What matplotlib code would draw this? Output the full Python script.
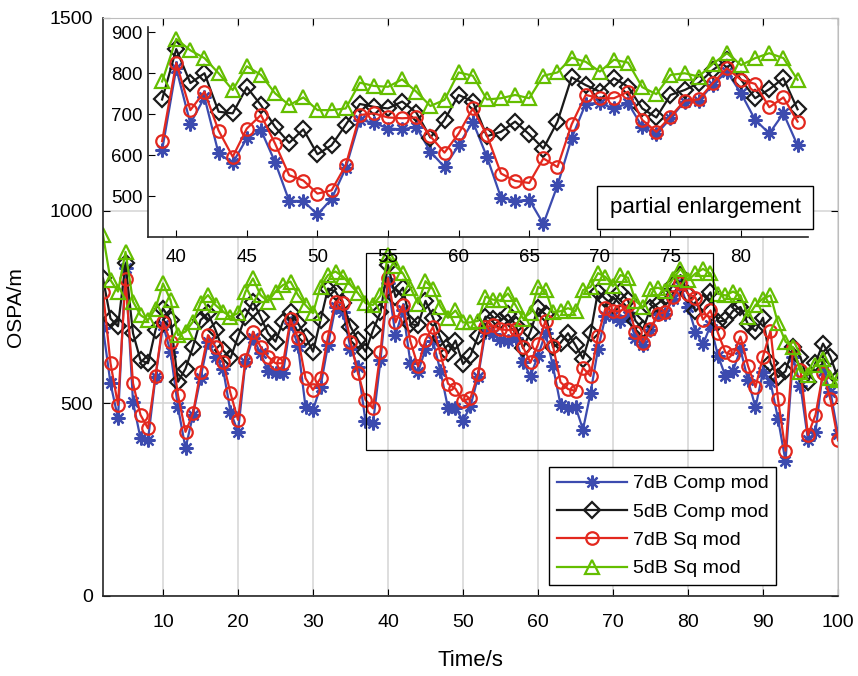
import numpy as np
import matplotlib.pyplot as plt
from matplotlib.patches import Rectangle

plt.rcParams['font.family'] = ['Liberation Sans', 'DejaVu Sans']

# one sample per second, t = 2 ... 100 s
time_s = np.arange(2, 101)

comp_7db = [695, 552, 461, 850, 504, 409, 405, 569, 703, 634,
            490, 383, 470, 565, 660, 620, 590, 478, 426, 608,
            670, 630, 585, 578, 578, 708, 650, 491, 483, 543,
            651, 750, 738, 642, 595, 453, 448, 612, 812, 677,
            741, 604, 581, 641, 661, 583, 488, 488, 455, 493,
            568, 686, 679, 665, 663, 669, 608, 571, 624, 682,
            596, 496, 488, 491, 432, 526, 641, 726, 727, 714,
            727, 669, 651, 690, 731, 733, 772, 804, 751, 686,
            653, 702, 624, 570, 585, 640, 560, 490, 582, 555,
            460, 350, 620, 545, 405, 426, 585, 530, 420]
comp_5db = [824, 720, 700, 863, 682, 612, 604, 690, 746, 716,
            556, 590, 647, 716, 734, 690, 638, 617, 673, 725,
            764, 725, 682, 660, 712, 738, 708, 673, 634, 716,
            798, 790, 760, 699, 664, 634, 690, 736, 859, 776,
            800, 706, 702, 766, 722, 669, 630, 663, 602, 624,
            674, 725, 718, 714, 731, 704, 643, 686, 747, 731,
            646, 657, 682, 651, 616, 682, 790, 771, 755, 788,
            767, 714, 692, 747, 759, 776, 808, 833, 784, 739,
            761, 788, 712, 715, 740, 750, 705, 688, 722, 605,
            568, 583, 645, 620, 556, 605, 655, 620, 565]
sq_7db = [790, 604, 496, 822, 552, 470, 435, 571, 712, 660,
          521, 426, 474, 582, 677, 647, 608, 526, 457, 613,
          686, 647, 621, 604, 604, 718, 669, 565, 535, 565,
          673, 764, 760, 660, 578, 509, 487, 634, 825, 710,
          755, 660, 596, 665, 698, 628, 551, 538, 506, 514,
          575, 698, 702, 692, 690, 692, 646, 606, 653, 714,
          649, 555, 537, 532, 592, 571, 675, 747, 739, 739,
          755, 686, 657, 694, 733, 736, 776, 812, 784, 774,
          717, 741, 682, 632, 625, 673, 597, 542, 621, 689,
          511, 377, 643, 587, 418, 470, 578, 510, 405]
sq_5db = [937, 820, 790, 893, 764, 729, 716, 746, 811, 768,
          677, 686, 712, 760, 781, 755, 738, 725, 734, 790,
          824, 781, 764, 790, 807, 816, 781, 755, 734, 803,
          833, 842, 829, 807, 786, 760, 755, 780, 884, 856,
          837, 800, 759, 817, 796, 751, 722, 741, 710, 710,
          714, 777, 769, 767, 785, 755, 720, 735, 802, 794,
          736, 739, 747, 739, 794, 802, 838, 828, 804, 833,
          826, 766, 749, 796, 800, 792, 823, 849, 820, 837,
          849, 837, 784, 780, 790, 780, 725, 755, 772, 780,
          708, 660, 645, 582, 574, 600, 615, 565, 560]

series_labels = ['7dB Comp mod', '5dB Comp mod', '7dB Sq mod', '5dB Sq mod']
main_xticks = list(range(10, 101, 10))
main_yticks = [0, 500, 1000, 1500]
inset_xticks = list(range(40, 81, 5))
inset_yticks = [500, 600, 700, 800, 900]
zoom_start, zoom_end = 39, 84   # seconds shown in the enlargement

styles = [
    dict(color='#3C4BAF', marker=(8, 2, 0), ms=10),
    dict(color='#1A1A1A', marker='D', ms=8, mfc='none'),
    dict(color='#E3281E', marker='o', ms=9, mfc='none'),
    dict(color='#64BE00', marker='^', ms=10, mfc='none'),
]
all_series = [comp_7db, comp_5db, sq_7db, sq_5db]

fig = plt.figure(figsize=(8.58, 6.76), dpi=100, facecolor='white')

# ---- main axes ----
ax = fig.add_axes([103/858, 80/676, 735/858, 578/676])
for vals, lab, st in zip(all_series, series_labels, styles):
    ax.plot(time_s, vals, label=lab, lw=1.6, mew=1.6, **st)

ax.set_xlim(2, 100)
ax.set_ylim(0, 1500)
ax.set_xticks(main_xticks)
ax.set_yticks(main_yticks)
ax.grid(True, color='#D4D4D4', lw=1.1)
ax.set_axisbelow(True)
ax.tick_params(direction='in', length=5, labelsize=14, top=True, right=True)
ax.tick_params(axis='x', pad=13)
ax.tick_params(axis='y', pad=7)
for side in ['top', 'right']:
    ax.spines[side].set_color('#BDBDBD')
for side in ['left', 'bottom']:
    ax.spines[side].set_color('#262626')
    ax.spines[side].set_linewidth(1.2)

ax.set_xlabel('Time/s', fontsize=16)
ax.set_ylabel('OSPA/m', fontsize=15)
ax.xaxis.set_label_coords(0.5, -0.094)
ax.yaxis.set_label_coords(-0.106, 0.5)

# box around the zoomed part
ax.add_patch(Rectangle((37.07, 379), 46.26, 511, fill=False, ec='black', lw=0.9, zorder=5))

leg = ax.legend(loc='upper left', bbox_to_anchor=(549/858, 1 - 467/676),
                bbox_transform=fig.transFigure, fontsize=14, frameon=True,
                fancybox=False, framealpha=1, edgecolor='black',
                handlelength=3.6, handletextpad=0.3, borderpad=0.4,
                labelspacing=0.55, borderaxespad=0)
leg.get_frame().set_linewidth(1.0)

# ---- inset: partial enlargement ----
axin = fig.add_axes([148/858, (676 - 237)/676, 660/858, 210/676])
axin.set_facecolor('white')
sel = (time_s >= zoom_start) & (time_s <= zoom_end)
for vals, st in zip(all_series, styles):
    axin.plot(time_s[sel], np.asarray(vals)[sel], lw=1.6, mew=1.6, **st)
axin.set_xlim(38, 84.74)
axin.set_ylim(400, 913)
axin.set_xticks(inset_xticks)
axin.set_yticks(inset_yticks)
axin.tick_params(direction='in', length=5, labelsize=13.5)
axin.tick_params(axis='x', pad=9)
axin.tick_params(axis='y', pad=4)
axin.spines['top'].set_visible(False)
axin.spines['right'].set_visible(False)
for side in ['left', 'bottom']:
    axin.spines[side].set_color('#262626')
    axin.spines[side].set_linewidth(1.2)

fig.patches.append(Rectangle((597/858, 1 - 229/676), 216/858, 43/676,
                             transform=fig.transFigure, fc='white', ec='black',
                             lw=1.0, zorder=2))
fig.text(705/858, 1 - 208/676, 'partial enlargement', fontsize=16,
         ha='center', va='center', zorder=3)

fig.savefig('out.png', dpi=100)
